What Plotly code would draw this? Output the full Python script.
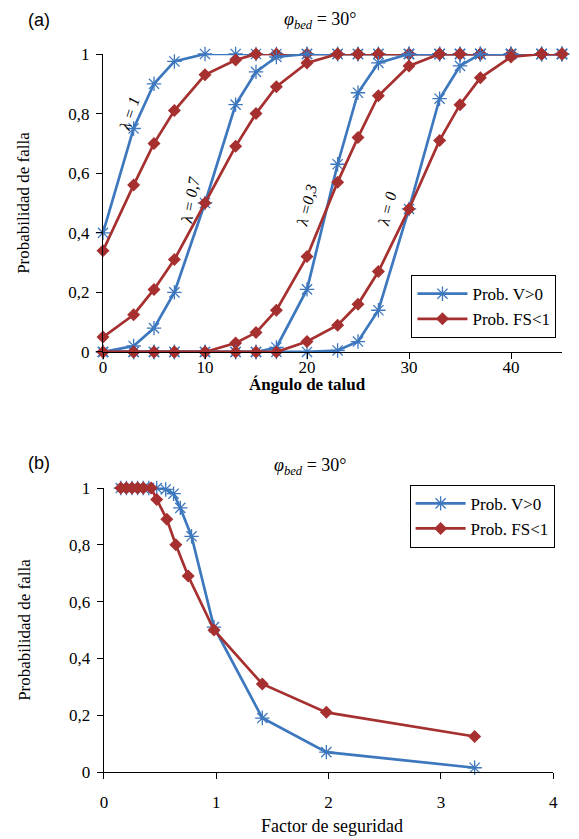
import plotly.graph_objects as go

# ---------------- data ----------------
angles = [0, 3, 5, 7, 10, 13, 15, 17, 20, 23, 25, 27, 30, 33, 35, 37, 40, 43, 45]
v_l1  = [0.40, 0.75, 0.90, 0.975, 1, 1, 1, 1, 1, 1, 1, 1, 1, 1, 1, 1, 1, 1, 1]
f_l1  = [0.34, 0.56, 0.70, 0.81, 0.93, 0.98, 1, 1, 1, 1, 1, 1, 1, 1, 1, 1, 1, 1, 1]
v_l07 = [0, 0.02, 0.08, 0.20, 0.50, 0.83, 0.94, 0.99, 1, 1, 1, 1, 1, 1, 1, 1, 1, 1, 1]
f_l07 = [0.05, 0.125, 0.21, 0.31, 0.50, 0.69, 0.80, 0.89, 0.97, 1, 1, 1, 1, 1, 1, 1, 1, 1, 1]
v_l03 = [0, 0, 0, 0, 0, 0, 0, 0.015, 0.21, 0.63, 0.87, 0.97, 1, 1, 1, 1, 1, 1, 1]
f_l03 = [0, 0, 0, 0, 0, 0.03, 0.065, 0.14, 0.32, 0.57, 0.72, 0.86, 0.96, 1, 1, 1, 1, 1, 1]
v_l0  = [0, 0, 0, 0, 0, 0, 0, 0, 0, 0.005, 0.035, 0.14, 0.48, 0.85, 0.96, 1, 1, 1, 1]
f_l0  = [0, 0, 0, 0, 0, 0, 0, 0, 0.035, 0.09, 0.16, 0.27, 0.48, 0.71, 0.83, 0.92, 0.99, 1, 1]

lambda_labels = ["λ = 1", "λ = 0,7", "λ =0,3", "λ = 0"]
lambda_lab_x = [2.6, 8.5, 20.0, 27.9]
lambda_lab_y = [0.80, 0.51, 0.49, 0.48]

fs_v = [0.15, 0.2, 0.25, 0.3, 0.35, 0.4, 0.47, 0.55, 0.62, 0.68, 0.78, 0.98, 1.41, 1.98, 3.3]
p_v  = [1, 1, 1, 1, 1, 1, 1, 0.995, 0.98, 0.93, 0.83, 0.51, 0.19, 0.07, 0.015]
fs_f = [0.15, 0.2, 0.25, 0.3, 0.35, 0.42, 0.47, 0.56, 0.64, 0.75, 0.98, 1.41, 1.98, 3.3]
p_f  = [1, 1, 1, 1, 1, 1, 0.96, 0.89, 0.80, 0.69, 0.50, 0.31, 0.21, 0.125]

name_v = "Prob. V>0"
name_f = "Prob. FS<1"

# ---------------- style ----------------
BLUE = "#3D77BE"
RED = "#A5302F"
SERIF = "Liberation Serif"
SANS = "Liberation Sans"

# the page body has an 8px default margin; compensate so the plot lands where intended
BODY = 8

fig = go.Figure()

def add_v(x, y, xa, ya, show, legend):
    fig.add_trace(go.Scatter(x=x, y=y, xaxis=xa, yaxis=ya, mode="lines+markers",
                             name=name_v, showlegend=show, legend=legend,
                             line=dict(color=BLUE, width=2.7),
                             marker=dict(symbol="asterisk-open", size=12,
                                         line=dict(color=BLUE, width=1.3)),
                             cliponaxis=False))

def add_f(x, y, xa, ya, show, legend):
    fig.add_trace(go.Scatter(x=x, y=y, xaxis=xa, yaxis=ya, mode="lines+markers",
                             name=name_f, showlegend=show, legend=legend,
                             line=dict(color=RED, width=2.7),
                             marker=dict(symbol="diamond", size=10, color=RED),
                             cliponaxis=False))

top_v = [v_l1, v_l07, v_l03, v_l0]
top_f = [f_l1, f_l07, f_l03, f_l0]
for i in range(4):
    add_v(angles, top_v[i], "x", "y", i == 0, "legend")
    add_f(angles, top_f[i], "x", "y", i == 0, "legend")

add_v(fs_v, p_v, "x2", "y2", True, "legend2")
add_f(fs_f, p_f, "x2", "y2", True, "legend2")

axis_common = dict(showgrid=False, zeroline=False, showline=True, linecolor="black",
                   linewidth=1.3, ticks="outside", ticklen=6, tickcolor="black",
                   tickwidth=1.3, tickfont=dict(family=SERIF, size=17, color="black"))

legend_common = dict(xanchor="left", yanchor="top", bgcolor="white", bordercolor="black",
                     borderwidth=1, itemwidth=50, tracegroupgap=0,
                     font=dict(family=SERIF, size=17, color="black"))

fig.update_layout(
    width=579 - BODY, height=839 - BODY,
    margin=dict(l=103 - BODY, r=12, t=54 - BODY, b=67),
    paper_bgcolor="white", plot_bgcolor="white",
    separators=", ",
    xaxis=dict(domain=[0, 1], anchor="y", range=[0, 45], tickvals=[0, 10, 20, 30, 40],
               ticklabelstandoff=-7, **axis_common),
    yaxis=dict(domain=[0.585, 1.0], anchor="x", range=[0, 1], dtick=0.2,
               ticklabelstandoff=3, **axis_common),
    xaxis2=dict(domain=[0.002, 0.981], anchor="y2", range=[0, 4], dtick=1,
                ticklabelstandoff=8, **axis_common),
    yaxis2=dict(domain=[0, 0.3955], anchor="x2", range=[0, 1], dtick=0.2,
                ticklabelstandoff=3, **axis_common),
    legend=dict(x=0.672, y=0.692, **legend_common),
    legend2=dict(x=0.668, y=0.40, **legend_common),
)

anns = []
# lambda labels (data coordinates)
angles_txt = [-72, -80, -76, -76]
for i in range(4):
    anns.append(dict(x=lambda_lab_x[i], y=lambda_lab_y[i], xref="x", yref="y",
                     text="<i>" + lambda_labels[i] + "</i>", showarrow=False,
                     textangle=angles_txt[i],
                     font=dict(family=SERIF, size=16, color="black")))

# page-pixel placed texts: convert to paper coords (plot area spans page px 103..567, 54..772)
def px(xp, yp):
    return (xp - 103) / 464, (772 - yp) / 718

def add_px(xp, yp, text, font, angle=0):
    x, y = px(xp, yp)
    anns.append(dict(x=x, y=y, xref="paper", yref="paper", text=text, showarrow=False,
                     textangle=angle, font=font, xanchor="center", yanchor="middle"))

title_txt = "<i>φ</i><sub><i>bed</i></sub> = 30°"
title_font = dict(family=SERIF, size=18, color="black")
add_px(323, 20, title_txt, title_font)
add_px(313, 466, title_txt, title_font)
add_px(38, 20, "(a)", dict(family=SANS, size=18, color="black"))
add_px(38, 463, "(b)", dict(family=SANS, size=18, color="black"))
add_px(310, 384, "<b>Ángulo de talud</b>", dict(family=SERIF, size=17, color="black"))
add_px(334, 826, "Factor de seguridad", dict(family=SERIF, size=18, color="black"))
add_px(23, 203, "Probabilidad de falla", dict(family=SERIF, size=17, color="black"), -90)
add_px(23, 630, "Probabilidad de falla", dict(family=SERIF, size=17, color="black"), -90)

fig.update_layout(annotations=anns)

fig.write_html("out.html")
